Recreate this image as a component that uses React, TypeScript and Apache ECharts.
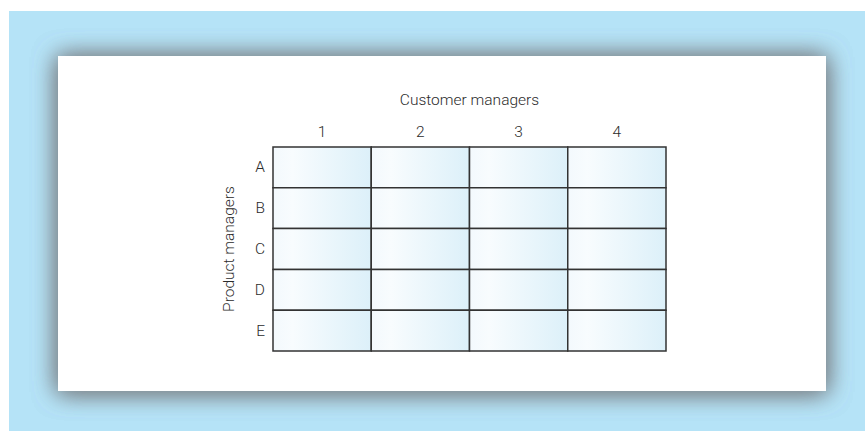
import React, { useEffect, useRef } from "react";
import * as echarts from "echarts";

const xTitle = "Customer managers";
const yTitle = "Product managers";
const customerManagers = ["1", "2", "3", "4"];
const productManagers = ["A", "B", "C", "D", "E"];

const FONT = "Roboto, 'Open Sans', sans-serif";
const TEXT = "#2b2b2b";
const FS = 15.5;

export default function App() {
  const ref = useRef<HTMLDivElement>(null);
  useEffect(() => {
    const chart = echarts.init(ref.current!, null, { renderer: "svg" });
    const cells: number[][] = [];
    productManagers.forEach((_p, yi) =>
      customerManagers.forEach((_c, xi) => cells.push([xi, yi]))
    );
    const panelShadow = {
      fill: "#ffffff",
      shadowBlur: 24,
      shadowColor: "rgba(125,132,138,1)",
      shadowOffsetX: 0,
      shadowOffsetY: 1,
    };
    const textStyle = { fontSize: FS, color: TEXT, fontFamily: FONT, fontWeight: 300 };
    chart.setOption({
      animation: false,
      graphic: [
        {
          type: "rect",
          z: -30,
          silent: true,
          shape: { x: 9, y: 11, width: 856, height: 420 },
          style: { fill: "#b5e3f7" },
        },
        {
          type: "rect",
          z: -20,
          silent: true,
          shape: { x: 58, y: 56, width: 768, height: 335 },
          style: panelShadow,
        },
        {
          type: "rect",
          z: -19,
          silent: true,
          shape: { x: 58, y: 56, width: 768, height: 335 },
          style: panelShadow,
        },
      ],
      grid: { left: 273, top: 147, width: 393, height: 204 },
      xAxis: {
        type: "category",
        position: "top",
        data: customerManagers,
        axisLine: { show: false },
        axisTick: { show: false },
        splitLine: { show: false },
        axisLabel: { margin: 7, ...textStyle },
        name: xTitle,
        nameLocation: "middle",
        nameGap: 39,
        nameTextStyle: textStyle,
      },
      yAxis: {
        type: "category",
        inverse: true,
        data: productManagers,
        axisLine: { show: false },
        axisTick: { show: false },
        splitLine: { show: false },
        axisLabel: { margin: 8, ...textStyle },
        name: yTitle,
        nameLocation: "middle",
        nameRotate: 90,
        nameGap: 36,
        nameTextStyle: textStyle,
      },
      series: [
        {
          type: "custom",
          data: cells,
          encode: { x: 0, y: 1 },
          renderItem: (_params: any, api: any) => {
            const c = api.coord([api.value(0), api.value(1)]);
            const s = api.size([1, 1]);
            return {
              type: "rect",
              shape: { x: c[0] - s[0] / 2, y: c[1] - s[1] / 2, width: s[0], height: s[1] },
              style: {
                fill: new echarts.graphic.LinearGradient(0, 0, 1, 0, [
                  { offset: 0, color: "#f3f9fd" },
                  { offset: 0.2, color: "#f8fcfe" },
                  { offset: 1, color: "#dcf0f9" },
                ]),
                stroke: "#333333",
                lineWidth: 1.5,
              },
            };
          },
        },
      ],
    });
    return () => chart.dispose();
  }, []);
  return (
    <div
      ref={ref}
      style={{ position: "absolute", left: 0, top: 0, width: 865, height: 431 }}
    />
  );
}
